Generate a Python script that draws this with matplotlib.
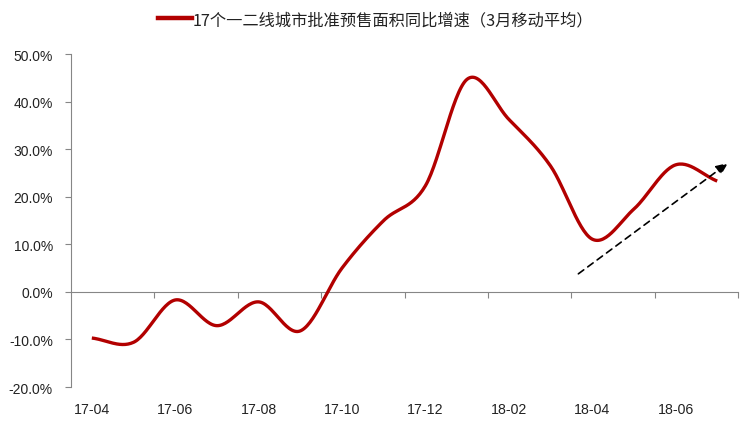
import numpy as np
import matplotlib.pyplot as plt
from matplotlib.lines import Line2D

plt.rcParams['font.family'] = ['Noto Sans CJK SC', 'DejaVu Sans']

months = ['17-04', '17-05', '17-06', '17-07', '17-08', '17-09', '17-10', '17-11',
          '17-12', '18-01', '18-02', '18-03', '18-04', '18-05', '18-06', '18-07']
growth = [-9.7, -10.6, -1.7, -7.1, -2.1, -8.2, 5.0, 15.0,
          22.3, 44.7, 36.3, 26.5, 11.1, 17.4, 26.7, 23.3]
yticks = [-20, -10, 0, 10, 20, 30, 40, 50]
series_name = '17个一二线城市批准预售面积同比增速（3月移动平均）'


def smooth(x, y, n=30):
    # Catmull-Rom style smoothing, similar to Excel "smoothed line"
    x = np.asarray(x, float)
    y = np.asarray(y, float)
    px = np.concatenate([[2 * x[0] - x[1]], x, [2 * x[-1] - x[-2]]])
    py = np.concatenate([[2 * y[0] - y[1]], y, [2 * y[-1] - y[-2]]])
    xs, ys = [], []
    t = np.linspace(0, 1, n, endpoint=False)
    for i in range(1, len(px) - 2):
        for arr, out in ((px, xs), (py, ys)):
            p0, p1, p2, p3 = arr[i - 1], arr[i], arr[i + 1], arr[i + 2]
            out.extend(0.5 * (2 * p1 + (-p0 + p2) * t
                              + (2 * p0 - 5 * p1 + 4 * p2 - p3) * t ** 2
                              + (-p0 + 3 * p1 - 3 * p2 + p3) * t ** 3))
    xs.append(x[-1])
    ys.append(y[-1])
    return np.array(xs), np.array(ys)


fig = plt.figure(figsize=(7.44, 4.27), dpi=100)
ax = fig.add_axes([0.0954, 0.0913, 0.8966, 0.7797])

x = np.arange(len(months))
sx, sy = smooth(x, growth)
line_color = '#B20000'
ax.plot(sx, sy, color=line_color, lw=2.4, solid_capstyle='butt', zorder=3)

# trend arrow
ax.annotate('', xy=(15.26, 27.1), xytext=(11.67, 3.8),
            arrowprops=dict(arrowstyle='-|>,head_length=0.7,head_width=0.3',
                            color='black', lw=1.2, ls=(0, (4, 3)),
                            shrinkA=0, shrinkB=0))

ax.set_xlim(-0.5, len(months) - 0.5)
ax.set_ylim(-20, 50)
ax.set_yticks(yticks)
ax.set_yticklabels(['%.1f%%' % v for v in yticks], family='Liberation Sans',
                   fontsize=10, color='#222222')

for s in ['top', 'right']:
    ax.spines[s].set_visible(False)
ax.spines['left'].set_color('#868686')
ax.spines['bottom'].set_color('#868686')
ax.spines['bottom'].set_position(('data', 0))
ax.tick_params(axis='y', direction='out', length=4, color='#868686', pad=9)
ax.set_xticks(np.arange(1.5, len(months), 2))
ax.set_xticklabels([])
ax.tick_params(axis='x', direction='out', length=4, color='#868686')

for i in range(0, len(months), 2):
    ax.text(x[i], -0.066, months[i], transform=ax.get_xaxis_transform(),
            ha='center', va='center', family='Liberation Sans', fontsize=10.2,
            color='#222222')

handle = Line2D([], [], color=line_color, lw=3.2)
fig.legend([handle], [series_name], loc='center', bbox_to_anchor=(0.505, 0.952),
           frameon=False, fontsize=11.7, handlelength=2.1, handletextpad=0.05,
           labelcolor='#222222')

fig.savefig('out.png', dpi=100)
